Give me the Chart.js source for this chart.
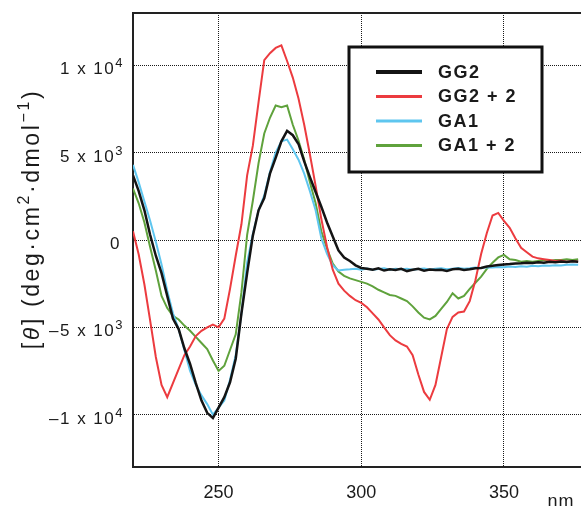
<!DOCTYPE html>
<html>
<head>
<meta charset="utf-8">
<script src="https://cdn.jsdelivr.net/npm/chart.js@4/dist/chart.umd.min.js"></script>
<style>
  html, body { margin: 0; padding: 0; background: #fff; }
</style>
</head>
<body>
<canvas id="cdChart" width="581" height="506"></canvas>
<script>
// Longueurs d'onde (nm), pas de 2 nm
const wavelengths = [
  220, 222, 224, 226, 228, 230, 232, 234, 236, 238, 240, 242, 244, 246, 248, 250,
  252, 254, 256, 258, 260, 262, 264, 266, 268, 270, 272, 274, 276, 278, 280, 282,
  284, 286, 288, 290, 292, 294, 296, 298, 300, 302, 304, 306, 308, 310, 312, 314,
  316, 318, 320, 322, 324, 326, 328, 330, 332, 334, 336, 338, 340, 342, 344, 346,
  348, 350, 352, 354, 356, 358, 360, 362, 364, 366, 368, 370, 372, 374, 376
];

// [θ] (deg·cm²·dmol⁻¹)
const gg2 = [
  3700, 2800, 1700, 300, -900, -1900, -3200, -4500, -5100, -6200, -7100, -8200, -9200, -9900, -10200, -9600,
  -9000, -8150, -6800, -4200, -1900, 250, 1700, 2400, 3800, 4700, 5650, 6250, 6000, 5500, 4500, 3600,
  2750, 1900, 1000, 200, -600, -1000, -1200, -1450, -1600, -1650, -1700, -1620, -1750, -1680, -1720, -1650,
  -1780, -1700, -1650, -1760, -1690, -1720, -1700, -1770, -1680, -1650, -1720, -1680, -1620, -1600, -1520, -1480,
  -1430, -1400, -1380, -1350, -1330, -1300, -1320, -1280, -1300, -1250, -1280, -1230, -1260, -1220, -1240
];
const gg2Plus2 = [
  500, -830, -2550, -4600, -6700, -8300, -9000, -8200, -7400, -6600, -6100, -5500, -5200, -5000, -4850, -5000,
  -4500, -2800, -900, 900, 3700, 5400, 7900, 10300, 10700, 11000, 11150, 10250, 9300, 8100, 6600, 4900,
  3100, 1200, -400, -1700, -2500, -2900, -3200, -3450, -3600, -3850, -4200, -4550, -5000, -5450, -5750, -5950,
  -6100, -6600, -7700, -8700, -9150, -8300, -6700, -5100, -4400, -4150, -4100, -3500, -2300, -800, 400, 1400,
  1550, 1100, 700, 100, -450, -700, -950, -1050, -1100, -1150, -1200, -1180, -1250, -1200, -1250
];
const ga1 = [
  4300, 3300, 2200, 1100, -100, -1400, -2900, -4200, -5100, -6300, -7500, -8300, -8900, -9400, -10000, -9600,
  -9200, -8000, -6600, -4200, -1300, 350, 1700, 2550, 3900, 5000, 5650, 5750, 5200, 4600, 3800, 2800,
  1700, 100, -800, -1450, -1750, -1700, -1680, -1650, -1700, -1640, -1700, -1660, -1620, -1700, -1650, -1680,
  -1640, -1700, -1660, -1630, -1690, -1650, -1620, -1680, -1640, -1600, -1650, -1620, -1580, -1600, -1560, -1580,
  -1540, -1560, -1520, -1550, -1500, -1530, -1480, -1500, -1460, -1480, -1440, -1460, -1420, -1400, -1420
];
const ga1Plus2 = [
  2950, 2100, 1000, -400, -1750, -3200, -3900, -4350, -4550, -4900, -5200, -5550, -5900, -6250, -6900, -7500,
  -7200, -6300, -5400, -3000, 300, 2250, 4400, 6100, 7000, 7700, 7600, 7700, 6600, 5700, 4600, 3300,
  2100, 500, -500, -1350, -1800, -2050, -2200, -2300, -2400, -2500, -2650, -2850, -3000, -3150, -3200, -3350,
  -3500, -3800, -4150, -4450, -4550, -4350, -3950, -3550, -3050, -3350, -3200, -2800, -2450, -2100, -1650, -1300,
  -1000, -850, -1100, -1150, -1250, -1200, -1250, -1200, -1150, -1200, -1150, -1150, -1100, -1150, -1100
];

const seriesNames = ["GG2", "GG2 + 2", "GA1", "GA1 + 2"];
const seriesColors = ["#141414", "#ec3b3f", "#5ec6ef", "#5fa23c"];
const seriesWidths = [2.5, 2, 2, 2];

const xTicks = [250, 300, 350];
const yTicks = [-10000, -5000, 0, 5000, 10000];
// [mantisse, exposant]
const yTickLabels = [["\u20131 x 10", "4"], ["\u20135 x 10", "3"], ["0", ""], ["5 x 10", "3"], ["1 x 10", "4"]];

const FONT = "'Liberation Sans', Arial, Helvetica, sans-serif";
const INK = "#1a1a1a";

const allSeries = [gg2, gg2Plus2, ga1, ga1Plus2];
const datasets = allSeries.map((vals, i) => ({
  label: seriesNames[i],
  data: wavelengths.map((w, k) => ({ x: w, y: vals[k] })),
  borderColor: seriesColors[i],
  borderWidth: seriesWidths[i],
  pointRadius: 0,
  tension: 0,
  fill: false,
}));

// cadre du haut, étiquettes y avec exposants, légende encadrée, titres
const decorPlugin = {
  id: "decor",
  afterDraw(chart) {
    const { ctx, chartArea } = chart;
    const yScale = chart.scales.y;
    ctx.save();
    ctx.strokeStyle = "#222";
    ctx.lineWidth = 2;
    ctx.beginPath();
    ctx.moveTo(chartArea.left, chartArea.top);
    ctx.lineTo(chartArea.right, chartArea.top);
    ctx.stroke();

    // étiquettes de l'axe y
    ctx.fillStyle = INK;
    ctx.textAlign = "left";
    ctx.textBaseline = "alphabetic";
    ctx.letterSpacing = "1.5px";
    yTicks.forEach((v, i) => {
      const py = yScale.getPixelForValue(v);
      const [base, exp] = yTickLabels[i];
      ctx.font = "17px " + FONT;
      const wb = ctx.measureText(base).width;
      ctx.font = "13px " + FONT;
      const we = exp ? ctx.measureText(exp).width : 0;
      const right = exp ? 124 : 121;
      let x0 = right - wb - we;
      ctx.font = "17px " + FONT;
      ctx.fillText(base, x0, py + 9);
      if (exp) {
        ctx.font = "13px " + FONT;
        ctx.fillText(exp, x0 + wb, py + 2);
      }
    });

    // légende
    const bx = 349, by = 47, bw = 193, bh = 125;
    ctx.fillStyle = "#fff";
    ctx.fillRect(bx, by, bw, bh);
    ctx.strokeStyle = "#111";
    ctx.lineWidth = 3;
    ctx.strokeRect(bx, by, bw, bh);
    ctx.font = "bold 18px " + FONT;
    ctx.letterSpacing = "1.5px";
    ctx.textBaseline = "middle";
    seriesNames.forEach((name, i) => {
      const y = 72 + i * 24.5;
      ctx.strokeStyle = seriesColors[i];
      ctx.lineWidth = i === 0 ? 4 : 3;
      ctx.beginPath();
      ctx.moveTo(376, y);
      ctx.lineTo(422, y);
      ctx.stroke();
      ctx.fillStyle = INK;
      ctx.fillText(name, 438, y + 1);
    });

    // titre de l'axe y
    ctx.save();
    ctx.translate(39, 219);
    ctx.rotate(-Math.PI / 2);
    ctx.letterSpacing = "2.6px";
    const parts = [
      { t: "[", s: 23 }, { t: "\u03b8", s: 23, it: true }, { t: "] (deg\u00b7cm", s: 23 },
      { t: "2", s: 16, sup: true }, { t: "\u00b7dmol", s: 23 }, { t: "\u22121", s: 16, sup: true },
      { t: ")", s: 23 }
    ];
    const fontOf = p => (p.it ? "italic " : "") + p.s + "px " + FONT;
    let total = 0;
    parts.forEach(p => { ctx.font = fontOf(p); total += ctx.measureText(p.t).width; });
    let cx = -total / 2;
    ctx.fillStyle = INK;
    ctx.textAlign = "left";
    ctx.textBaseline = "alphabetic";
    parts.forEach(p => {
      ctx.font = fontOf(p);
      ctx.fillText(p.t, cx, p.sup ? -10 : 0);
      cx += ctx.measureText(p.t).width;
    });
    ctx.restore();

    // unité de l'axe x
    ctx.font = "18px " + FONT;
    ctx.letterSpacing = "1px";
    ctx.fillStyle = INK;
    ctx.textAlign = "center";
    ctx.textBaseline = "alphabetic";
    ctx.fillText("nm", 561, 507);
    ctx.restore();
  }
};

const cdCanvas = document.getElementById("cdChart");
new Chart(cdCanvas, {
  type: "line",
  data: { datasets },
  options: {
    responsive: false,
    animation: false,
    devicePixelRatio: 1,
    layout: { padding: { top: 13, right: 0, bottom: 0, left: 0 } },
    plugins: { legend: { display: false }, tooltip: { enabled: false } },
    scales: {
      x: {
        type: "linear",
        min: 220,
        max: 377,
        afterBuildTicks: axis => { axis.ticks = xTicks.map(v => ({ value: v })); },
        afterFit: axis => { axis.height = 39; },
        grid: { color: "#1a1a1a", lineWidth: 1, drawTicks: false },
        border: { color: "#222", width: 2, dash: [1, 1] },
        ticks: {
          padding: 15, color: INK, maxRotation: 0, autoSkip: false,
          font: { family: FONT, size: 18 },
          callback: v => String(v)
        }
      },
      y: {
        type: "linear",
        min: -13000,
        max: 13000,
        afterBuildTicks: axis => { axis.ticks = yTicks.map(v => ({ value: v })); },
        afterFit: axis => { axis.width = 133; },
        grid: { color: "#1a1a1a", lineWidth: 1, drawTicks: false },
        border: { color: "#222", width: 2, dash: [1, 1] },
        ticks: { display: false }
      }
    }
  },
  plugins: [decorPlugin]
});
</script>
</body>
</html>
